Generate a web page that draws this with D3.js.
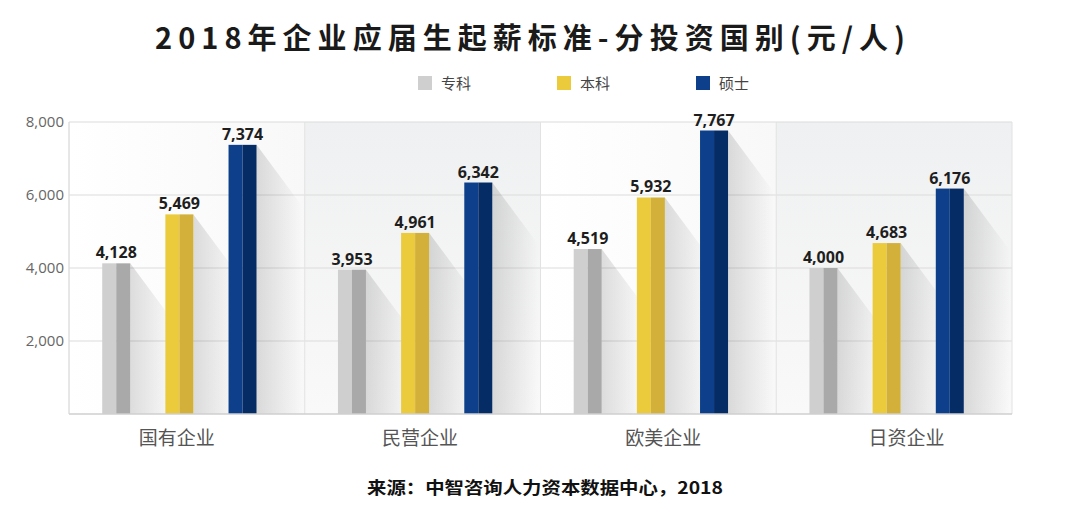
<!DOCTYPE html>
<html><head><meta charset="utf-8">
<script src="https://cdn.jsdelivr.net/npm/d3@7"></script>
<style>
html,body{margin:0;padding:0;background:#fff;}
svg{display:block;}
</style></head>
<body>
<script>
const categories = ["国有企业","民营企业","欧美企业","日资企业"];
const seriesNames = ["专科","本科","硕士"];
const zhuanke = [4128, 3953, 4519, 4000];
const benke   = [5469, 4961, 5932, 4683];
const shuoshi = [7374, 6342, 7767, 6176];
const yTicks = [2000, 4000, 6000, 8000];
const titleText = "2018年企业应届生起薪标准-分投资国别(元/人)";
const sourceText = "来源：中智咨询人力资本数据中心，2018";

const W = 1080, H = 526;
const margin = {left: 69, right: 68, top: 122, bottom: 112};
const svg = d3.select("body").append("svg").attr("width", W).attr("height", H);
const defs = svg.append("defs");

const seriesVals = [zhuanke, benke, shuoshi];
const colorsL = ["#cfcfcf", "#ebca3c", "#0d3f8a"];
const colorsR = ["#a9a9a9", "#d2b03a", "#062c66"];

const x0 = d3.scaleBand().domain(categories).range([margin.left, W - margin.right]).padding(0);
const x1 = d3.scaleBand().domain(seriesNames).range([33, x0.bandwidth() - 48]).paddingInner(0.55).paddingOuter(0);
const xLab = d3.scaleBand().domain(categories).range([55, 1028]).padding(0);
const y = d3.scaleLinear().domain([0, 8000]).range([H - margin.bottom, margin.top]);

// panel backgrounds
const gPanel = defs.append("linearGradient").attr("id","panelGray").attr("x1",0).attr("y1",0).attr("x2",0).attr("y2",1);
gPanel.append("stop").attr("offset","0%").attr("stop-color","#eff0f1");
gPanel.append("stop").attr("offset","100%").attr("stop-color","#f9f9f9");
const gPanelW = defs.append("linearGradient").attr("id","panelWhite").attr("x1",0).attr("y1",0).attr("x2",1).attr("y2",0);
gPanelW.append("stop").attr("offset","0%").attr("stop-color","#ffffff");
gPanelW.append("stop").attr("offset","100%").attr("stop-color","#f8f8f8");

svg.append("g").selectAll("rect").data(categories).join("rect")
  .attr("x", d => x0(d)).attr("y", y(8000))
  .attr("width", x0.bandwidth()).attr("height", y(0) - y(8000))
  .attr("fill", (d,i) => i % 2 ? "url(#panelGray)" : "url(#panelWhite)");

// gridlines
svg.append("g").selectAll("line").data(yTicks).join("line")
  .attr("x1", margin.left).attr("x2", W - margin.right)
  .attr("y1", d => y(d)).attr("y2", d => y(d))
  .attr("stroke", "#dcdcdc").attr("stroke-width", 1.2);

// panel separators
svg.append("g").selectAll("line").data(categories.concat(["end"])).join("line")
  .attr("x1", (d,i) => i < categories.length ? x0(d) : W - margin.right)
  .attr("x2", (d,i) => i < categories.length ? x0(d) : W - margin.right)
  .attr("y1", y(8000)).attr("y2", y(0))
  .attr("stroke", "#e2e2e2").attr("stroke-width", 1);

// shadow gradient
const sg = defs.append("linearGradient").attr("id","shadow").attr("x1",0).attr("y1",0).attr("x2",1).attr("y2",0);
sg.append("stop").attr("offset","0%").attr("stop-color","#000").attr("stop-opacity",0.13);
sg.append("stop").attr("offset","100%").attr("stop-color","#000").attr("stop-opacity",0);

const bw = 28;
const groups = svg.append("g").selectAll("g").data(categories).join("g")
  .attr("transform", d => `translate(${x0(d)},0)`);

seriesNames.forEach((s, si) => {
  const vals = seriesVals[si];
  const cx = x1(s) + x1.bandwidth() / 2;
  groups.append("path")
    .attr("d", (d, i) => {
      const r = cx + bw / 2, t = y(vals[i]), b = y(0);
      return `M${r},${t} L${r + 46},${t + 62} L${r + 46},${b} L${r},${b} Z`;
    })
    .attr("fill", "url(#shadow)");
});

seriesNames.forEach((s, si) => {
  const vals = seriesVals[si];
  const cx = x1(s) + x1.bandwidth() / 2;
  groups.append("rect")
    .attr("x", cx - bw / 2).attr("y", (d, i) => y(vals[i]))
    .attr("width", bw / 2).attr("height", (d, i) => y(0) - y(vals[i]))
    .attr("fill", colorsL[si]);
  groups.append("rect")
    .attr("x", cx).attr("y", (d, i) => y(vals[i]))
    .attr("width", bw / 2).attr("height", (d, i) => y(0) - y(vals[i]))
    .attr("fill", colorsR[si]);
  groups.append("text")
    .attr("x", cx).attr("y", (d, i) => y(vals[i]) - 5)
    .attr("text-anchor", "middle")
    .attr("font-family", "'Open Sans', 'DejaVu Sans', sans-serif")
    .attr("font-weight", "bold").attr("font-size", 16).attr("fill", "#1e1e1e")
    .text((d, i) => d3.format(",")(vals[i]));
});

// baseline & left axis line
svg.append("line").attr("x1", margin.left).attr("x2", W - margin.right)
  .attr("y1", y(0)).attr("y2", y(0)).attr("stroke", "#cfcfcf").attr("stroke-width", 1.5);
svg.append("line").attr("x1", margin.left).attr("x2", margin.left)
  .attr("y1", y(8000)).attr("y2", y(0)).attr("stroke", "#dcdcdc").attr("stroke-width", 1);

// y axis labels
const yAxis = d3.axisLeft(y).tickValues(yTicks).tickFormat(d3.format(",")).tickSize(0).tickPadding(5);
const ya = svg.append("g").attr("transform", `translate(${margin.left},0)`).call(yAxis);
ya.select(".domain").remove();
ya.selectAll("text").attr("font-family", "'Open Sans', sans-serif").attr("font-size", 15).attr("fill", "#666");

// x axis labels
const xAxis = d3.axisBottom(xLab).tickSize(0).tickPadding(18);
const xa = svg.append("g").attr("transform", `translate(0,${y(0)})`).call(xAxis);
xa.select(".domain").remove();
xa.selectAll("text").attr("font-family", "'Noto Sans CJK SC', sans-serif").attr("font-size", 19).attr("fill", "#555");

// title
svg.append("text").attr("x", 530).attr("y", 49).attr("text-anchor", "middle")
  .attr("font-family", "'Noto Sans CJK SC', sans-serif").attr("font-weight", "bold")
  .attr("font-size", 29).attr("fill", "#1a1a1a")
  .attr("textLength", 750).attr("lengthAdjust", "spacing")
  .text(titleText);

// legend
const legX = [418, 557, 696];
const leg = svg.append("g").selectAll("g").data(seriesNames).join("g")
  .attr("transform", (d, i) => `translate(${legX[i]},76)`);
leg.append("rect").attr("width", 14).attr("height", 14).attr("fill", (d, i) => colorsL[i]);
leg.append("text").attr("x", 23).attr("y", 13)
  .attr("font-family", "'Noto Sans CJK SC', sans-serif").attr("font-size", 15).attr("fill", "#444")
  .text(d => d);

// source
svg.append("text").attr("x", 545).attr("y", 494).attr("text-anchor", "middle")
  .attr("font-family", "'Noto Sans CJK SC', sans-serif").attr("font-weight", "bold")
  .attr("font-size", 17).attr("fill", "#111")
  .attr("textLength", 356).attr("lengthAdjust", "spacingAndGlyphs")
  .text(sourceText);
</script>
</body></html>
